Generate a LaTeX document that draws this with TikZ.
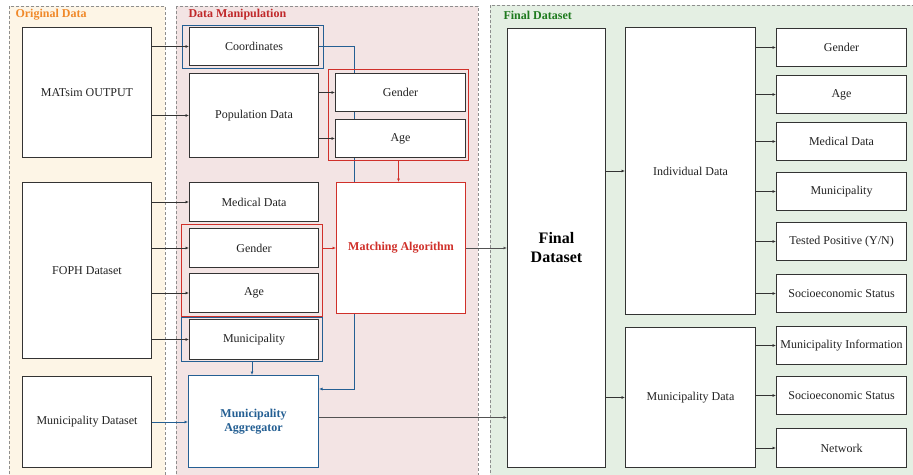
\documentclass[tikz,border=0pt]{standalone}
\usepackage{fontspec}
\setmainfont{Liberation Serif}
\usetikzlibrary{arrows.meta,calc}

\definecolor{lineG}{HTML}{333333}
\definecolor{panelO}{HTML}{FDF5E6}
\definecolor{panelR}{HTML}{F3E4E4}
\definecolor{panelG}{HTML}{E4EFE3}
\definecolor{dashG}{HTML}{8E8E8E}
\definecolor{titleO}{HTML}{F0892A}
\definecolor{titleR}{HTML}{C0282A}
\definecolor{titleG}{HTML}{1E7A1E}
\definecolor{grpR}{HTML}{D0302A}
\definecolor{grpB}{HTML}{245F93}
\definecolor{txt}{HTML}{222222}

\pgfdeclarelayer{panels}
\pgfdeclarelayer{wires}
\pgfsetlayers{panels,wires,main}

\tikzset{
  panel/.style={draw=dashG, line width=0.8pt, dash pattern=on 3pt off 2pt},
  title/.style={anchor=west, font=\fontsize{12}{14}\selectfont\bfseries},
  box/.style={draw=lineG, fill=white, line width=1pt, inner sep=1pt,
    anchor=north west, align=center, text=txt,
    font=\fontsize{12}{14}\selectfont},
  grp/.style={line width=1pt, inner sep=0pt, anchor=north west},
  arr/.style={-{Latex[length=3.5pt,width=3pt]}, line width=0.8pt, draw=lineG},
  barr/.style={-{Latex[length=3.5pt,width=3pt]}, line width=0.8pt, draw=grpB},
  rarr/.style={-{Latex[length=3.5pt,width=3pt]}, line width=0.8pt, draw=grpR},
}

\begin{document}
\begin{tikzpicture}[x=1pt, y=-1pt]
\useasboundingbox (0,0) rectangle (913,474);
\clip (0,0) rectangle (913,474);

% column panels
\begin{pgfonlayer}{panels}
\filldraw[panel, fill=panelO] (9,6) rectangle (165,490);
\filldraw[panel, fill=panelR] (176,6) rectangle (478,490);
\filldraw[panel, fill=panelG] (490,5) rectangle (930,490);
\end{pgfonlayer}
\node[title, text=titleO] (tO) at (12,15) {Original Data};
\node[title, text=titleR] (tR) at (185,15) {Data Manipulation};
\node[title, text=titleG] (tG) at (500,15) {Final Dataset};

% group outlines
\node[grp, draw=grpB, minimum width=141pt, minimum height=43pt] (blueC) at (182,25) {};
\node[grp, draw=grpR, minimum width=140pt, minimum height=91pt] (redT) at (328,69) {};
\node[grp, draw=grpR, minimum width=141pt, minimum height=92pt] (redM) at (181,224) {};
\node[grp, draw=grpB, minimum width=141pt, minimum height=44pt] (blueM) at (181,317) {};

% source data
\node[box, minimum width=129pt, minimum height=130pt] (matsim) at (22,27) {MATsim OUTPUT};
\node[box, minimum width=129pt, minimum height=176pt] (foph) at (22,182) {FOPH Dataset};
\node[box, minimum width=129pt, minimum height=91pt] (munids) at (22,376) {Municipality Dataset};

% data manipulation
\node[box, minimum width=129pt, minimum height=38pt] (coord) at (189,27) {Coordinates};
\node[box, minimum width=129pt, minimum height=84pt] (pop) at (189,73) {Population Data};
\node[box, minimum width=130pt, minimum height=38pt] (genT) at (335,73) {Gender};
\node[box, minimum width=130pt, minimum height=38pt] (ageT) at (335,119) {Age};
\node[box, minimum width=129pt, minimum height=39pt] (med) at (189,182) {Medical Data};
\node[box, minimum width=129pt, minimum height=39pt] (genM) at (189,228) {Gender};
\node[box, minimum width=129pt, minimum height=39pt] (ageM) at (189,273) {Age};
\node[box, minimum width=129pt, minimum height=40pt] (muni) at (189,319) {Municipality};
\node[box, draw=grpB, text=grpB, font=\fontsize{12}{14}\selectfont\bfseries,
      minimum width=130pt, minimum height=92pt] (agg) at (188,375) {Municipality\\Aggregator};
\node[box, draw=grpR, text=grpR, font=\fontsize{12}{14}\selectfont\bfseries,
      minimum width=129pt, minimum height=131pt] (match) at (336,182) {Matching Algorithm};

% final dataset
\node[box, font=\fontsize{16}{19}\selectfont\bfseries, text=black,
      minimum width=98pt, minimum height=439pt] (final) at (507,28) {Final\\Dataset};
\node[box, minimum width=130pt, minimum height=287pt] (indiv) at (625,27) {Individual Data};
\node[box, minimum width=130pt, minimum height=140pt] (munidata) at (625,327) {Municipality Data};
\node[box, minimum width=130pt, minimum height=38pt] (r1) at (776,28) {Gender};
\node[box, minimum width=130pt, minimum height=38pt] (r2) at (776,75) {Age};
\node[box, minimum width=130pt, minimum height=38pt] (r3) at (776,122) {Medical Data};
\node[box, minimum width=130pt, minimum height=38pt] (r4) at (776,172) {Municipality};
\node[box, minimum width=130pt, minimum height=38pt] (r5) at (776,222) {Tested Positive (Y/N)};
\node[box, minimum width=130pt, minimum height=38pt] (r6) at (776,274) {Socioeconomic Status};
\node[box, inner sep=0pt, minimum width=130pt, minimum height=38pt] (r7) at (776,326) {Municipality Information};
\node[box, minimum width=130pt, minimum height=38pt] (r8) at (776,376) {Socioeconomic Status};
\node[box, minimum width=130pt, minimum height=39pt] (r9) at (776,428) {Network};

% coordinate link to the aggregator, running behind the boxes
\begin{pgfonlayer}{wires}
\draw[barr] (coord.east) -- ++(35,0) |- ([yshift=-14pt]agg.north east);
\end{pgfonlayer}

% source links
\draw[arr] (matsim.east |- coord.west) -- (coord.west);
\draw[arr] (matsim.east |- pop.west) -- (pop.west);
\draw[arr] (foph.east |- med.west) -- (med.west);
\draw[arr] (foph.east |- genM.west) -- (genM.west);
\draw[arr] (foph.east |- ageM.west) -- (ageM.west);
\draw[arr] (foph.east |- muni.west) -- (muni.west);
\draw[barr] (munids.east) -- (munids.east -| agg.west);
\draw[arr] (pop.east |- genT.west) -- (genT.west);
\draw[arr] (pop.east |- ageT.west) -- (ageT.west);

% matching and aggregation
\draw[rarr] (redT.south) -- (redT.south |- match.north);
\draw[rarr] (redM.east |- match.west) -- (match.west);
\draw[barr] (blueM.south) -- (blueM.south |- agg.north);
\draw[arr, draw=lineG!85!white, line width=1pt] (match.east) -- (match.east -| final.west);
\draw[arr, draw=lineG!85!white, line width=1pt] ([yshift=4pt]agg.east) -- ([yshift=4pt]agg.east -| final.west);

% final dataset structure
\draw[arr] (final.east |- indiv.west) -- (indiv.west);
\draw[arr] (final.east |- munidata.west) -- (munidata.west);
\foreach \r in {r1,r2,r3,r4,r5,r6}
  \draw[arr] (indiv.east |- \r.west) -- (\r.west);
\foreach \r in {r7,r8,r9}
  \draw[arr] (munidata.east |- \r.west) -- (\r.west);

\end{tikzpicture}
\end{document}
